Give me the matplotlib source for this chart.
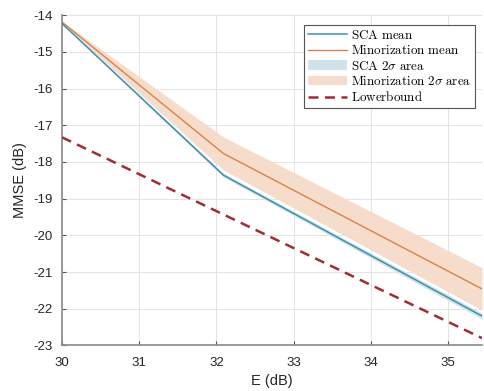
import matplotlib
matplotlib.use("Agg")
import matplotlib.pyplot as plt
import numpy as np

# Data
E_dB = [30.0, 32.09, 35.44]
sca_mean = [-14.23, -18.36, -22.20]
sca_upper = [-14.21, -18.31, -22.12]
sca_lower = [-14.25, -18.41, -22.28]
min_mean = [-14.19, -17.77, -21.46]
min_upper = [-14.17, -17.32, -20.88]
min_lower = [-14.21, -18.22, -22.04]
lb_E = [30.0, 35.44]
lowerbound = [-17.33, -22.80]

xticks = [30, 31, 32, 33, 34, 35]
yticks = [-23, -22, -21, -20, -19, -18, -17, -16, -15, -14]

plt.rcParams['mathtext.fontset'] = 'cm'
plt.rcParams['font.family'] = ['Liberation Sans', 'DejaVu Sans']

fig = plt.figure(figsize=(4.85, 3.91), dpi=100)
ax = fig.add_axes([0.128, 0.1164, 0.866, 0.845])

c_sca = '#3f8fae'
c_min = '#d8824a'
c_sca_band = '#cfe3ea'
c_min_band = '#f6ddcb'
c_lb = '#a02c35'

h_sb = ax.fill_between(E_dB, sca_lower, sca_upper, color=c_sca_band, lw=0, zorder=2)
h_mb = ax.fill_between(E_dB, min_lower, min_upper, color=c_min_band, lw=0, zorder=1)
h_s, = ax.plot(E_dB, sca_mean, color=c_sca, lw=1.1, zorder=4)
h_m, = ax.plot(E_dB, min_mean, color=c_min, lw=1.0, zorder=3)
h_l, = ax.plot(lb_E, lowerbound, color=c_lb, lw=1.8, ls=(0, (4, 2.6)), zorder=5)

ax.set_xlim(30, 35.44)
ax.set_ylim(-23, -14)
ax.set_xticks(xticks)
ax.set_yticks(yticks)
ax.set_xticklabels([str(t) for t in xticks])
ax.set_yticklabels([str(t) for t in yticks])
ax.tick_params(labelsize=9.5, direction='in', length=3, width=0.8,
               colors='#555555', labelcolor='#262626')
ax.tick_params(axis='y', pad=7)
ax.tick_params(axis='x', pad=8)
ax.grid(True, color='#e3e3e3', lw=0.7)
ax.set_axisbelow(True)
for s in ['top', 'right']:
    ax.spines[s].set_visible(False)
for s in ['left', 'bottom']:
    ax.spines[s].set_color('#8a8a8a')
    ax.spines[s].set_linewidth(1.2)

ax.set_xlabel('E (dB)', fontsize=10.5, color='#262626', labelpad=4)
ax.set_ylabel('MMSE (dB)', fontsize=10.5, color='#262626', labelpad=4)

labels = [r'$\mathrm{SCA\ mean}$', r'$\mathrm{Minorization\ mean}$',
          r'$\mathrm{SCA\ 2}\sigma\mathrm{\ area}$',
          r'$\mathrm{Minorization\ 2}\sigma\mathrm{\ area}$',
          r'$\mathrm{Lowerbound}$']
leg = ax.legend([h_s, h_m, h_sb, h_mb, h_l], labels, loc='upper right',
                bbox_to_anchor=(0.983, 0.97), fontsize=9.4, frameon=True,
                fancybox=False, edgecolor='#555555', framealpha=1,
                handlelength=3.0, handletextpad=0.3, labelspacing=0.18,
                borderpad=0.3, borderaxespad=0)
leg.get_frame().set_linewidth(0.8)

fig.savefig('out.png', dpi=100)
